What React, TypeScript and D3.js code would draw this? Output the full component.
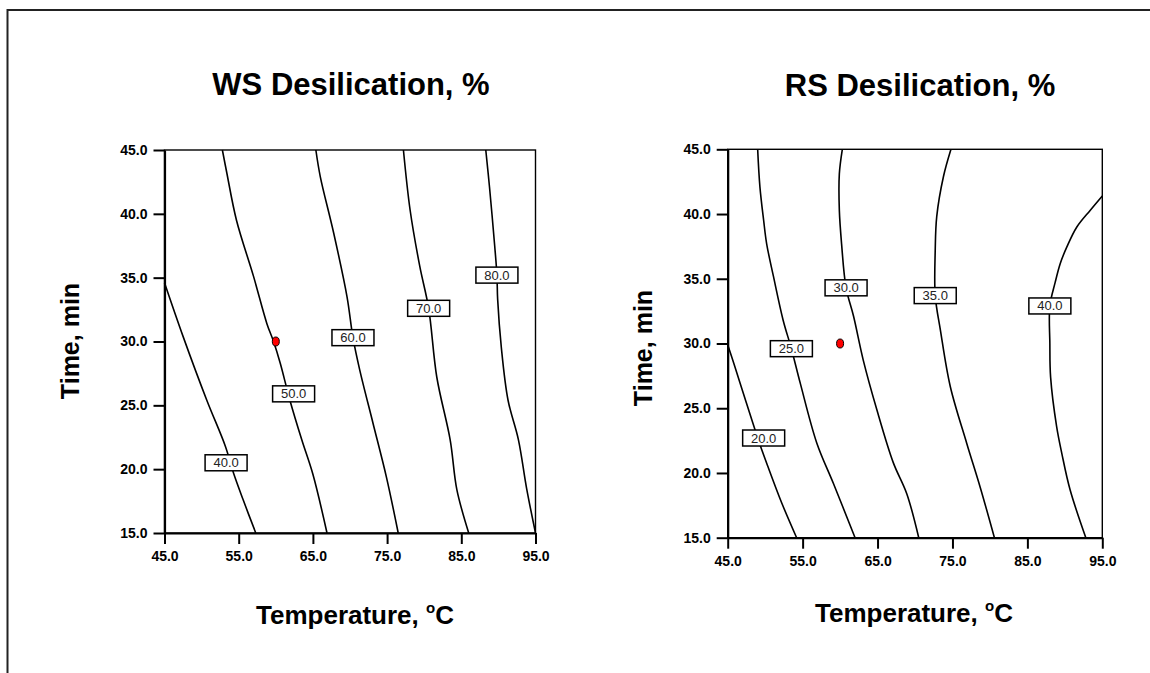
import React, { useEffect, useRef } from "react";
import * as d3 from "d3";

type Pt = [number, number];

// axis ticks (Temperature, °C and Time, min)
const tempTicks = [45, 55, 65, 75, 85, 95];
const timeTicks = [15, 20, 25, 30, 35, 40, 45];
const centerPoint: Pt = [60, 30];

// WS desilication contours, [temperature, time]
const wsLevels = [40, 50, 60, 70, 80];
const wsLines: Pt[][] = [
  [[45, 34.6], [47.5, 30.4], [50.7, 25.4], [53.2, 21.8], [54.3, 19.7], [55.6, 17.6], [57.3, 15]],
  [[52.8, 45], [53.4, 43.2], [54.7, 39.5], [57.0, 35.1], [58.8, 31.4], [59.7, 30.0], [60.6, 28.3], [61.9, 25.4], [63.5, 22.3], [65.0, 19.6], [66.9, 15]],
  [[65.4, 45], [66.0, 42.9], [67.8, 38.5], [69.6, 33.5], [70.4, 30.3], [71.3, 27.8], [73.1, 23.6], [74.9, 19.4], [76.5, 15]],
  [[77.2, 45], [78.1, 40.3], [79.4, 35.9], [80.6, 32.6], [81.7, 27.2], [83.5, 22.3], [84.4, 18.4], [86.0, 15]],
  [[88.3, 45], [88.8, 42.1], [89.5, 37.5], [89.8, 35.2], [89.9, 33.3], [90.4, 29.5], [91.3, 25.4], [92.7, 22.3], [93.8, 18.5], [95, 15]],
];
const wsLabels: Pt[] = [[53.3, 20.5], [62.4, 25.9], [70.4, 30.3], [80.6, 32.6], [89.8, 35.2]];

// RS desilication contours
const rsLevels = [20, 25, 30, 35, 40];
const rsLines: Pt[][] = [
  [[45, 29.9], [45.8, 28.5], [47.5, 25.4], [49.3, 22.2], [50.3, 20.6], [52.2, 17.7], [54.2, 15]],
  [[49.0, 45], [49.3, 42.1], [49.8, 39.5], [50.2, 37.7], [51.1, 35.2], [52.4, 31.8], [53.5, 29.6], [54.7, 26.9], [56.9, 22.3], [59.1, 19.2], [62.0, 15]],
  [[60.3, 45], [59.9, 43.1], [59.9, 40.3], [60.2, 37.7], [60.8, 34.3], [61.8, 32.1], [63.1, 28.7], [64.9, 24.9], [67.1, 20.8], [68.9, 18.4], [70.5, 15]],
  [[74.8, 45], [73.8, 42.9], [72.9, 39.8], [72.7, 37.2], [72.7, 33.7], [73.4, 31.0], [74.7, 26.7], [76.9, 22.3], [78.7, 18.9], [80.6, 15]],
  [[95, 41.4], [93.4, 40.3], [91.6, 39.0], [90.3, 37.5], [89.4, 36.2], [88.7, 34.7], [88.0, 32.9], [88.0, 30.0], [88.1, 27.4], [88.9, 23.6], [89.6, 21.5], [90.7, 18.7], [92.8, 15]],
];
const rsLabels: Pt[] = [[49.8, 22.7], [53.5, 29.6], [60.8, 34.3], [72.7, 33.7], [88.0, 32.9]];

const FONT = "Arial, 'Liberation Sans', sans-serif";

const panels = [
  {
    title: "WS Desilication, %", levels: wsLevels, lines: wsLines, labels: wsLabels,
    left: 164.5, right: 535.5, top: 150, bottom: 533,
    titleX: 351, titleY: 95, yTitleX: 79, yTitleY: 341, xTitleX: 355, xTitleY: 624,
  },
  {
    title: "RS Desilication, %", levels: rsLevels, lines: rsLines, labels: rsLabels,
    left: 727.7, right: 1102.3, top: 149.3, bottom: 537.7,
    titleX: 920, titleY: 96, yTitleX: 652, yTitleY: 348, xTitleX: 914, xTitleY: 622,
  },
];

const App = () => {
  const svgRef = useRef<SVGSVGElement>(null);

  useEffect(() => {
    const svg = d3.select(svgRef.current);
    svg.selectAll("*").remove();

    // outer frame, runs off the right and bottom edges
    svg
      .append("rect")
      .attr("x", 7.5)
      .attr("y", 10)
      .attr("width", 1200)
      .attr("height", 700)
      .attr("fill", "none")
      .attr("stroke", "#222")
      .attr("stroke-width", 2);

    panels.forEach((p) => {
      const x = d3.scaleLinear().domain([45, 95]).range([p.left, p.right]);
      const y = d3.scaleLinear().domain([15, 45]).range([p.bottom, p.top]);
      const g = svg.append("g").attr("font-family", FONT);

      const line = d3
        .line<Pt>()
        .x((d) => x(d[0]))
        .y((d) => y(d[1]))
        .curve(d3.curveCatmullRom);

      p.lines.forEach((pts) => {
        g.append("path")
          .attr("d", line(pts))
          .attr("fill", "none")
          .attr("stroke", "#000")
          .attr("stroke-width", 1.6);
      });

      // plot frame
      g.append("rect")
        .attr("x", p.left)
        .attr("y", p.top)
        .attr("width", p.right - p.left)
        .attr("height", p.bottom - p.top)
        .attr("fill", "none")
        .attr("stroke", "#000")
        .attr("stroke-width", 1.4);

      const styleAxis = (a: any) => {
        a.attr("font-family", FONT);
        a.select(".domain").attr("stroke-width", 2.2);
        a.selectAll(".tick line").attr("stroke-width", 2);
        a.selectAll("text")
          .attr("font-size", 14)
          .attr("font-weight", "bold")
          .attr("fill", "#000");
      };

      g.append("g")
        .attr("transform", `translate(0,${p.bottom})`)
        .call(
          d3.axisBottom(x).tickValues(tempTicks).tickFormat(d3.format(".1f")).tickSize(11).tickSizeOuter(0).tickPadding(7)
        )
        .call(styleAxis);

      g.append("g")
        .attr("transform", `translate(${p.left},0)`)
        .call(
          d3.axisLeft(y).tickValues(timeTicks).tickFormat(d3.format(".1f")).tickSize(11).tickSizeOuter(0).tickPadding(6)
        )
        .call(styleAxis);

      // contour labels
      p.labels.forEach((d, i) => {
        const lg = g.append("g").attr("transform", `translate(${x(d[0])},${y(d[1])})`);
        lg.append("rect")
          .attr("x", -21)
          .attr("y", -8)
          .attr("width", 42)
          .attr("height", 16)
          .attr("fill", "#fff")
          .attr("stroke", "#000")
          .attr("stroke-width", 1.5);
        lg.append("text")
          .attr("text-anchor", "middle")
          .attr("y", 4.5)
          .attr("font-size", 13)
          .attr("fill", "#222")
          .text(p.levels[i].toFixed(1));
      });

      // centre point
      g.append("ellipse")
        .attr("cx", x(centerPoint[0]))
        .attr("cy", y(centerPoint[1]))
        .attr("rx", 3.5)
        .attr("ry", 4.5)
        .attr("fill", "#f00")
        .attr("stroke", "#000")
        .attr("stroke-width", 1);

      g.append("text")
        .attr("x", p.titleX)
        .attr("y", p.titleY)
        .attr("text-anchor", "middle")
        .attr("font-size", 31)
        .attr("font-weight", "bold")
        .text(p.title);

      g.append("text")
        .attr("transform", `translate(${p.yTitleX},${p.yTitleY}) rotate(-90)`)
        .attr("text-anchor", "middle")
        .attr("font-size", 25)
        .attr("font-weight", "bold")
        .text("Time, min");

      const xt = g
        .append("text")
        .attr("x", p.xTitleX)
        .attr("y", p.xTitleY)
        .attr("text-anchor", "middle")
        .attr("font-size", 26)
        .attr("font-weight", "bold");
      xt.append("tspan").text("Temperature, ");
      xt.append("tspan").attr("font-size", 15).attr("dy", -11).text("o");
      xt.append("tspan").attr("dy", 11).text("C");
    });
  }, []);

  return (
    <svg
      ref={svgRef}
      width={1150}
      height={673}
      style={{ position: "absolute", left: 0, top: 0, background: "#fff" }}
    ></svg>
  );
};

export default App;
